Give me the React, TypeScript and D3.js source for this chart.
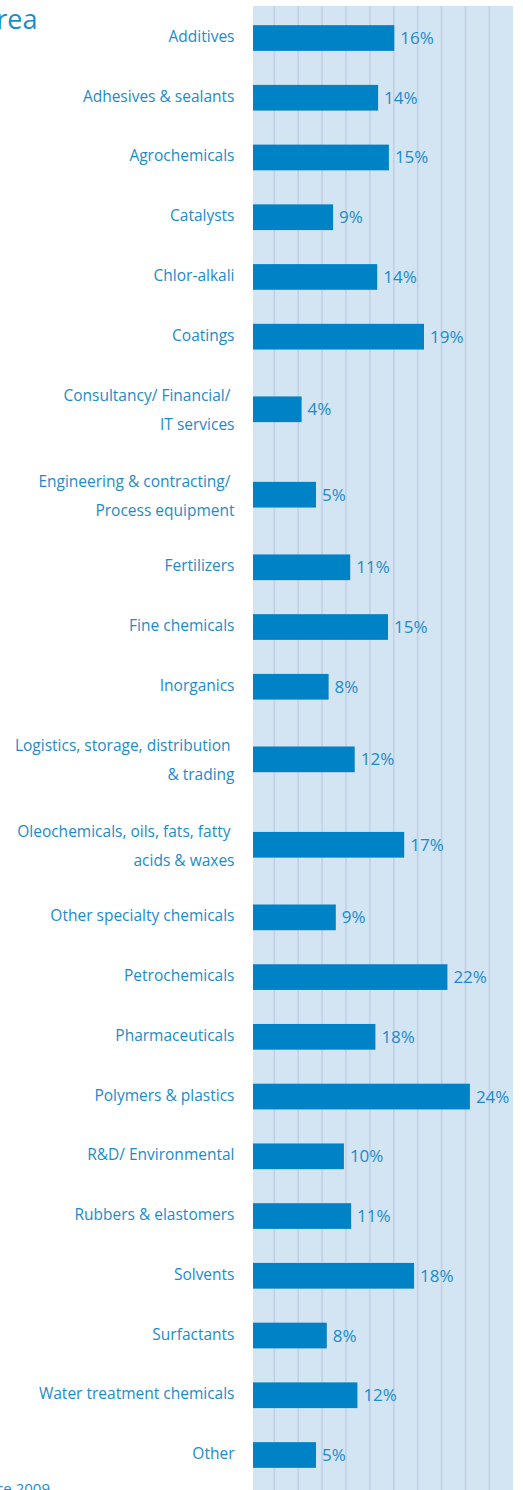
import * as d3 from "d3";

// category labels, split into the printed lines
const categories: string[][] = [
  ["Additives"],
  ["Adhesives & sealants"],
  ["Agrochemicals"],
  ["Catalysts"],
  ["Chlor-alkali"],
  ["Coatings"],
  ["Consultancy/ Financial/", "IT services"],
  ["Engineering & contracting/", "Process equipment"],
  ["Fertilizers"],
  ["Fine chemicals"],
  ["Inorganics"],
  ["Logistics, storage, distribution", "& trading"],
  ["Oleochemicals, oils, fats, fatty", "acids & waxes"],
  ["Other specialty chemicals"],
  ["Petrochemicals"],
  ["Pharmaceuticals"],
  ["Polymers & plastics"],
  ["R&D/ Environmental"],
  ["Rubbers & elastomers"],
  ["Solvents"],
  ["Surfactants"],
  ["Water treatment chemicals"],
  ["Other"],
];

// bar lengths as drawn (%)
const values: number[] = [
  15.7, 13.9, 15.1, 8.9, 13.8, 19.0, 5.4, 7.0, 10.8, 15.0, 8.4, 11.3, 16.8, 9.2,
  21.6, 13.6, 24.1, 10.1, 10.9, 17.9, 8.2, 11.6, 7.0,
];

// printed value labels
const valueLabels: string[] = [
  "16%", "14%", "15%", "9%", "14%", "19%", "4%", "5%", "11%", "15%", "8%", "12%",
  "17%", "9%", "22%", "18%", "24%", "10%", "11%", "18%", "8%", "12%", "5%",
];

const titleText = "rea";
const footText = "ce 2009";

const width = 523;
const height = 1490;

const BAR = "#0082c6";
const PANEL = "#d3e4f2";
const GRID = "#c2d0e7";
const TEXT = "#1b8bcb";
const FONT = "'Open Sans', 'Noto Sans', sans-serif";

const App = () => {
  // rows with two lines of text take more room
  const weights = categories.map((c) => (c.length > 1 ? 1.43 : 1));
  const starts = weights.map((_, i) => d3.sum(weights.slice(0, i)));
  const totalUnits = d3.sum(weights);
  const unit = 1417 / (totalUnits - 1);

  const y = d3.scaleLinear().domain([0, totalUnits]).range([38 - unit / 2, 38 - unit / 2 + totalUnits * unit]);
  const x = d3.scaleLinear().domain([0, 29]).range([253, 514]);
  const grid = d3.scaleLinear().domain([0, 11]).range([250.4, 513.3]);

  const barH = 25.7;
  const panelTop = 6;
  const panelRight = 513;

  return (
    <svg
      width={width}
      height={height}
      viewBox={`0 0 ${width} ${height}`}
      style={{ position: "absolute", left: 0, top: 0 }}
      fontFamily={FONT}
    >
      <rect x={x(0)} y={panelTop} width={panelRight - x(0)} height={height - panelTop} fill={PANEL} />
      {d3.range(1, 11).map((g) => (
        <line key={g} x1={grid(g)} x2={grid(g)} y1={panelTop} y2={height} stroke={GRID} strokeWidth={1.6} />
      ))}

      <text x={37.5} y={29} fontSize={27} fill={TEXT} textAnchor="end">
        {titleText}
      </text>
      <text x={50} y={1494} fontSize={15} fill={TEXT} textAnchor="end">
        {footText}
      </text>

      {categories.map((lines, i) => {
        const cy = y(starts[i] + weights[i] / 2);
        const n = lines.length;
        const off = 4 + (n - 1) * 2.5;
        return (
          <g key={i}>
            <rect x={x(0)} y={cy - barH / 2} width={x(values[i]) - x(0)} height={barH} fill={BAR} />
            <text x={x(values[i]) + 6} y={cy + 6} fontSize={17} fill={TEXT}>
              {valueLabels[i]}
            </text>
            {lines.map((ln, j) => (
              <text
                key={j}
                x={234.5}
                y={cy + off + (j - (n - 1) / 2) * 29}
                fontSize={15.5}
                fill={TEXT}
                textAnchor="end"
              >
                {j < n - 1 ? ln + "\u00a0" : ln}
              </text>
            ))}
          </g>
        );
      })}
    </svg>
  );
};

export default App;
